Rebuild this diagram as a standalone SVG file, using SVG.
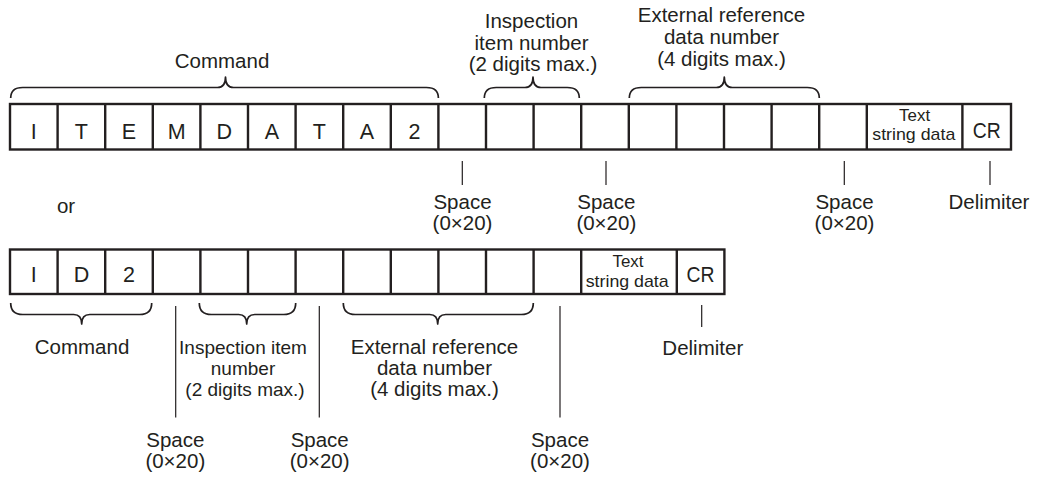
<svg xmlns="http://www.w3.org/2000/svg" width="1037" height="477" viewBox="0 0 1037 477">
<style>
  text { font-family: "Liberation Sans", Arial, sans-serif; fill: #231f20; text-anchor: middle; }
  .lbl { font-size: 20.5px; }
  .sm { font-size: 19px; }
  .cell { font-size: 21.5px; }
  .tsd { font-size: 17px; }
  .box { fill: #ffffff; stroke: #231f20; stroke-width: 2.4; }
  .div { fill: none; stroke: #231f20; stroke-width: 2.4; }
  .tick { fill: none; stroke: #231f20; stroke-width: 1.2; }
  .brace { fill: none; stroke: #231f20; stroke-width: 1.7; stroke-linejoin: round; }
</style>
<rect width="1037" height="477" fill="#ffffff"/>

<!-- Top record (ITEMDATA2) -->
<g id="record-itemdata2">
  <rect class="box" x="10" y="104" width="1001" height="45.5"/>
  <path class="div" d="M57.6 104V149.5M105.2 104V149.5M152.8 104V149.5M200.4 104V149.5M248 104V149.5M295.6 104V149.5M343.2 104V149.5M390.8 104V149.5M438.4 104V149.5M486 104V149.5M533.6 104V149.5M581.2 104V149.5M628.8 104V149.5M676.4 104V149.5M724 104V149.5M771.6 104V149.5M819.2 104V149.5M866.8 104V149.5M962.4 104V149.5"/>
  <text class="cell" x="33.8" y="138.5">I</text>
  <text class="cell" x="81.4" y="138.5">T</text>
  <text class="cell" x="129" y="138.5">E</text>
  <text class="cell" x="176.6" y="138.5">M</text>
  <text class="cell" x="224.2" y="138.5">D</text>
  <text class="cell" x="271.8" y="138.5">A</text>
  <text class="cell" x="319.4" y="138.5">T</text>
  <text class="cell" x="367" y="138.5">A</text>
  <text class="cell" x="414.6" y="138.5">2</text>
  <text class="tsd" x="914.6" y="120.5" textLength="31" lengthAdjust="spacingAndGlyphs">Text</text>
  <text class="tsd" x="913.8" y="140.2" textLength="83" lengthAdjust="spacingAndGlyphs">string data</text>
  <text class="cell" x="986.7" y="137.5" textLength="28" lengthAdjust="spacingAndGlyphs">CR</text>
</g>

<!-- Bottom record (ID2) -->
<g id="record-id2">
  <rect class="box" x="10" y="249.5" width="714.4" height="44.5"/>
  <path class="div" d="M57.6 249.5V294M105.2 249.5V294M152.8 249.5V294M200.4 249.5V294M248 249.5V294M295.6 249.5V294M343.2 249.5V294M390.8 249.5V294M438.4 249.5V294M486 249.5V294M533.6 249.5V294M581.2 249.5V294M676.8 249.5V294"/>
  <text class="cell" x="33.8" y="282">I</text>
  <text class="cell" x="81.4" y="282">D</text>
  <text class="cell" x="129" y="282">2</text>
  <text class="tsd" x="628" y="266.8" textLength="31" lengthAdjust="spacingAndGlyphs">Text</text>
  <text class="tsd" x="627.2" y="286.5" textLength="83" lengthAdjust="spacingAndGlyphs">string data</text>
  <text class="cell" x="700.6" y="281.7" textLength="28" lengthAdjust="spacingAndGlyphs">CR</text>
</g>

<!-- Connectors: braces and leader ticks -->
<g id="connectors">
  <!-- top braces -->
  <path class="brace" d="M10.7 98Q10.7 87.5 22.7 87.5L217.5 87.5Q225.5 87.5 225.5 77Q225.5 87.5 233.5 87.5L426.4 87.5Q438.4 87.5 438.4 98"/>
  <path class="brace" d="M484.3 98Q484.3 87.5 496.3 87.5L525 87.5Q533 87.5 533 77Q533 87.5 541 87.5L567.3 87.5Q579.3 87.5 579.3 98"/>
  <path class="brace" d="M629.3 98Q629.3 87.5 641.3 87.5L716.3 87.5Q724.3 87.5 724.3 77Q724.3 87.5 732.3 87.5L807.3 87.5Q819.3 87.5 819.3 98"/>
  <!-- bottom braces -->
  <path class="brace" d="M10.7 303Q10.7 314.5 22.7 314.5L73.7 314.5Q81.7 314.5 81.7 324Q81.7 314.5 89.7 314.5L139.7 314.5Q151.7 314.5 151.7 303"/>
  <path class="brace" d="M199.3 303Q199.3 314.5 211.3 314.5L238.7 314.5Q246.7 314.5 246.7 324Q246.7 314.5 254.7 314.5L283.7 314.5Q295.7 314.5 295.7 303"/>
  <path class="brace" d="M343.3 303Q343.3 314.5 355.3 314.5L429.7 314.5Q437.7 314.5 437.7 324Q437.7 314.5 445.7 314.5L521.3 314.5Q533.3 314.5 533.3 303"/>
  <!-- top ticks -->
  <path class="tick" d="M462.3 161V185M606 161V185M844.3 161V185M990 161V185"/>
  <!-- bottom ticks -->
  <path class="tick" d="M175.7 306V417.5M319.3 306V417.5M560 306V417.5M701.7 305V327"/>
</g>

<!-- Top labels -->
<g id="label-top-command"><text class="lbl" x="222" y="67.5">Command</text></g>
<g id="label-top-inspection">
  <text class="lbl" x="531.5" y="28">Inspection</text>
  <text class="lbl" x="531.5" y="50">item number</text>
  <text class="lbl" x="533" y="71">(2 digits max.)</text>
</g>
<g id="label-top-external">
  <text class="lbl" x="721.5" y="22">External reference</text>
  <text class="lbl" x="721.5" y="44">data number</text>
  <text class="lbl" x="721.5" y="66">(4 digits max.)</text>
</g>
<g id="label-top-space1"><text class="lbl" x="462.5" y="209">Space</text><text class="lbl" x="462.5" y="230">(0×20)</text></g>
<g id="label-top-space2"><text class="lbl" x="606.3" y="209">Space</text><text class="lbl" x="606.3" y="230">(0×20)</text></g>
<g id="label-top-space3"><text class="lbl" x="844.5" y="209">Space</text><text class="lbl" x="844.5" y="230">(0×20)</text></g>
<g id="label-top-delimiter"><text class="lbl" x="989" y="209">Delimiter</text></g>

<g id="label-or"><text class="lbl" x="66" y="213">or</text></g>

<!-- Bottom labels -->
<g id="label-bottom-command"><text class="lbl" x="82" y="354">Command</text></g>
<g id="label-bottom-inspection">
  <text class="sm" x="243" y="354">Inspection item</text>
  <text class="sm" x="243" y="375">number</text>
  <text class="sm" x="245" y="396">(2 digits max.)</text>
</g>
<g id="label-bottom-external">
  <text class="lbl" x="434.5" y="353.5">External reference</text>
  <text class="lbl" x="434.5" y="375">data number</text>
  <text class="lbl" x="434.5" y="396">(4 digits max.)</text>
</g>
<g id="label-bottom-space1"><text class="lbl" x="175.3" y="446.5">Space</text><text class="lbl" x="175.3" y="467.5">(0×20)</text></g>
<g id="label-bottom-space2"><text class="lbl" x="319.7" y="446.5">Space</text><text class="lbl" x="319.7" y="467.5">(0×20)</text></g>
<g id="label-bottom-space3"><text class="lbl" x="560" y="446.5">Space</text><text class="lbl" x="560" y="467.5">(0×20)</text></g>
<g id="label-bottom-delimiter"><text class="lbl" x="702.8" y="355">Delimiter</text></g>
</svg>
